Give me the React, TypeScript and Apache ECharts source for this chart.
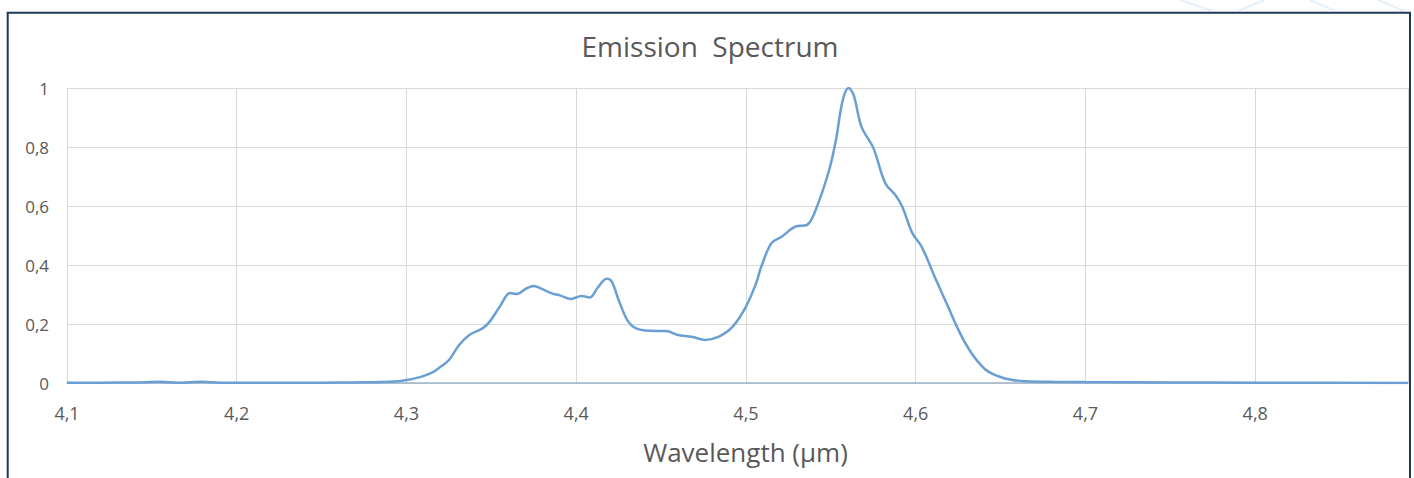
import React, { useEffect, useRef } from "react";
import * as echarts from "echarts";

const wavelengths: number[] = [
  4.1, 4.12, 4.14, 4.155, 4.165, 4.18, 4.19, 4.22, 4.25, 4.27, 4.285, 4.295,
  4.3, 4.308, 4.315, 4.319, 4.325, 4.331, 4.337, 4.345, 4.349, 4.355, 4.361,
  4.365, 4.371, 4.375, 4.38, 4.386, 4.39, 4.397, 4.403, 4.408, 4.4125, 4.418,
  4.421, 4.425, 4.43, 4.435, 4.443, 4.453, 4.46, 4.468, 4.476, 4.484, 4.492,
  4.5, 4.506, 4.509, 4.515, 4.521, 4.529, 4.536, 4.541, 4.549, 4.553, 4.557,
  4.5605, 4.5635, 4.568, 4.575, 4.582, 4.588, 4.592, 4.598, 4.6035, 4.612,
  4.619, 4.626, 4.633, 4.641, 4.649, 4.657, 4.665, 4.68, 4.7, 4.75, 4.8, 4.89,
];

const intensity: number[] = [
  0.001, 0.001, 0.002, 0.004, 0.001, 0.004, 0.001, 0.001, 0.001, 0.002, 0.003, 0.006,
  0.01, 0.02, 0.035, 0.05, 0.078, 0.129, 0.163, 0.186, 0.208, 0.259, 0.305,
  0.302, 0.322, 0.329, 0.318, 0.303, 0.298, 0.285, 0.295, 0.29, 0.322, 0.353,
  0.343, 0.281, 0.214, 0.186, 0.177, 0.176, 0.163, 0.157, 0.146, 0.157, 0.19,
  0.259, 0.339, 0.394, 0.474, 0.496, 0.53, 0.536, 0.586, 0.722, 0.824, 0.959,
  1.0, 0.975, 0.869, 0.797, 0.678, 0.637, 0.598, 0.508, 0.462, 0.349,
  0.259, 0.17, 0.1, 0.046, 0.022, 0.01, 0.006, 0.004, 0.003, 0.002, 0.001, 0.0,
];

const titleText = "Emission  Spectrum";
const xAxisName = "Wavelength (µm)";

const fmt = (v: number) => {
  const r = Math.round(v * 10) / 10;
  if (Math.abs(r - v) > 1e-6) return "";
  return (Number.isInteger(r) ? String(r) : r.toFixed(1)).replace(".", ",");
};

export default function App() {
  const ref = useRef<HTMLDivElement>(null);
  useEffect(() => {
    document.body.style.margin = "0";
    if (!ref.current) return;
    const chart = echarts.init(ref.current, null, { renderer: "svg" });
    const data = wavelengths.map((w, i) => [w, intensity[i]]);
    const deco = { stroke: "#e6f0fa", lineWidth: 2 };
    chart.setOption({
      animation: false,
      backgroundColor: "#ffffff",
      textStyle: { fontFamily: "Open Sans" },
      title: {
        text: titleText,
        left: 705,
        top: 27,
        textAlign: "center",
        textStyle: { color: "#595959", fontSize: 28, fontWeight: "normal", fontFamily: "Open Sans" },
      },
      grid: { left: 67, top: 88, right: 6, bottom: 95, containLabel: false },
      xAxis: {
        type: "value",
        min: 4.1,
        max: 4.89,
        interval: 0.1,
        name: xAxisName,
        nameLocation: "middle",
        nameGap: 56,
        nameTextStyle: { color: "#595959", fontSize: 26, fontFamily: "Open Sans", padding: [0, 0, 0, 16] },
        axisLine: { show: true, lineStyle: { color: "#9db3c9", width: 1.5 } },
        axisTick: { show: false },
        axisLabel: {
          color: "#595959",
          fontSize: 18,
          margin: 21,
          showMaxLabel: false,
          formatter: (v: number) => fmt(v),
        },
        splitLine: { show: true, lineStyle: { color: "#d9d9d9", width: 1 } },
      },
      yAxis: {
        type: "value",
        min: 0,
        max: 1,
        interval: 0.2,
        axisLine: { show: false },
        axisTick: { show: false },
        axisLabel: { color: "#595959", fontSize: 17, margin: 18, formatter: (v: number) => fmt(v) },
        splitLine: { show: true, lineStyle: { color: "#d9d9d9", width: 1 } },
      },
      graphic: [
        { type: "line", shape: { x1: 1180, y1: 0, x2: 1212, y2: 11 }, style: deco, silent: true },
        { type: "line", shape: { x1: 1238, y1: 11, x2: 1264, y2: 0 }, style: deco, silent: true },
        { type: "line", shape: { x1: 1310, y1: 0, x2: 1335, y2: 11 }, style: deco, silent: true },
        { type: "line", shape: { x1: 1378, y1: 0, x2: 1404, y2: 11 }, style: deco, silent: true },
        {
          type: "rect",
          shape: { x: 7.7, y: 12.7, width: 1402.3, height: 600 },
          style: { fill: "none", stroke: "#1f3a56", lineWidth: 2 },
          silent: true,
          z: 100,
        },
      ],
      series: [
        {
          type: "line",
          data,
          showSymbol: false,
          smooth: 0.35,
          lineStyle: { color: "#6a9fd4", width: 2.5 },
          itemStyle: { color: "#6a9fd4" },
        },
      ],
    });
    return () => chart.dispose();
  }, []);
  return <div ref={ref} style={{ width: 1414, height: 478 }} />;
}
